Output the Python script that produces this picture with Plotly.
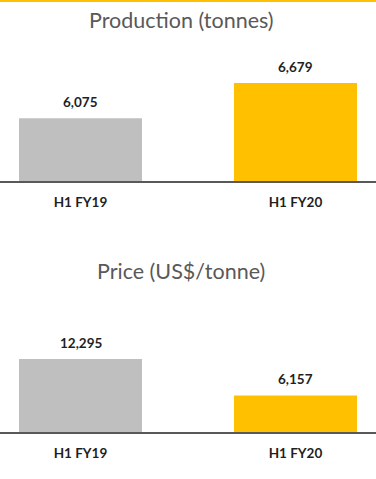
import plotly.graph_objects as go

categories = ["H1 FY19", "H1 FY20"]
production = [6075, 6679]
price = [12295, 6157]
titles = ["Production (tonnes)", "Price (US$/tonne)"]
bar_colors = ["#BFBFBF", "#FFC000"]

H = 479
W = 376

def pf(px):
    return 1 - px / H

fig = go.Figure()

fig.add_trace(go.Bar(x=categories, y=production, marker_color=bar_colors,
                     marker_line_width=0, xaxis="x", yaxis="y", hoverinfo="skip"))
fig.add_trace(go.Bar(x=categories, y=price, marker_color=bar_colors,
                     marker_line_width=0, xaxis="x2", yaxis="y2", hoverinfo="skip"))

font_main = "Lato, 'Open Sans', sans-serif"
ann = []
for xr, yr, vals in [("x", "y", production), ("x2", "y2", price)]:
    for c, v in zip(categories, vals):
        ann.append(dict(x=c, y=v, xref=xr, yref=yr, text=f"<b>{v:,}</b>",
                        showarrow=False, yanchor="bottom", yshift=6,
                        font=dict(family=font_main, size=13.5, color="#1f1f1f")))

ann.append(dict(x=0.482, y=pf(20), xref="paper", yref="paper", text=titles[0],
                showarrow=False, yanchor="middle", xanchor="center",
                font=dict(family=font_main, size=21.5, color="#595959")))
ann.append(dict(x=0.482, y=pf(271), xref="paper", yref="paper", text=titles[1],
                showarrow=False, yanchor="middle", xanchor="center",
                font=dict(family=font_main, size=21.5, color="#595959")))

xcommon = dict(type="category", range=[-0.3744, 1.3744], showline=True,
               linecolor="#595959", linewidth=1.5, ticks="outside", ticklen=8,
               tickcolor="rgba(0,0,0,0)", showgrid=False, zeroline=False,
               tickfont=dict(family=font_main, size=13.5, color="#1f1f1f"),
               domain=[0, 1], fixedrange=True)

fig.update_layout(
    width=W, height=H,
    margin=dict(l=0, r=0, t=0, b=0),
    paper_bgcolor="white", plot_bgcolor="white",
    showlegend=False,
    bargap=0.428,
    xaxis=dict(**xcommon, anchor="y", tickvals=categories,
               ticktext=[f"<b>{c}</b>" for c in categories]),
    xaxis2=dict(**xcommon, anchor="y2", tickvals=categories,
                ticktext=[f"<b>{c}</b>" for c in categories]),
    yaxis=dict(domain=[pf(181), pf(60)], range=[5000, 7073], visible=False,
               fixedrange=True),
    yaxis2=dict(domain=[pf(432), pf(310)], range=[0, 20549], visible=False,
                fixedrange=True),
    annotations=ann,
    shapes=[dict(type="line", xref="paper", yref="paper", x0=0, x1=1,
                 y0=pf(1), y1=pf(1), line=dict(color="#FFC000", width=2))],
)

fig.write_html("out.html")
